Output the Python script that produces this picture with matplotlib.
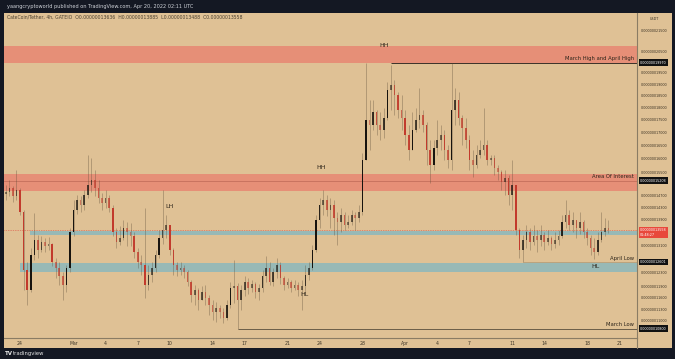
import numpy as np
import matplotlib.pyplot as plt
import matplotlib.dates as mdates
from matplotlib.colors import to_rgb
from matplotlib.lines import Line2D
from matplotlib.patches import Rectangle
from matplotlib.ticker import NullLocator
from matplotlib.transforms import blended_transform_factory
from datetime import datetime, timedelta

W, H = 675, 359

# CATE/USDT candles, prices in units of 1e-7 USDT, one bar per 8 hours
start = datetime(2022, 2, 22, 16)
bar_hours = 8
first_open = 1.475

close = [
    1.482, 1.496, 1.468, 1.489, 1.415, 1.238, 1.182, 1.281, 1.326, 1.296,
    1.320, 1.308, 1.314, 1.260, 1.244, 1.221, 1.196, 1.244, 1.351, 1.422,
    1.454, 1.438, 1.472, 1.506, 1.523, 1.496, 1.461, 1.445, 1.461, 1.428,
    1.351, 1.320, 1.332, 1.363, 1.351, 1.338, 1.290, 1.260, 1.252, 1.196,
    1.224, 1.244, 1.281, 1.332, 1.357, 1.373, 1.296, 1.252, 1.238, 1.244,
    1.232, 1.204, 1.168, 1.182, 1.155, 1.176, 1.160, 1.142, 1.123, 1.134,
    1.123, 1.107, 1.142, 1.187, 1.193, 1.155, 1.182, 1.204, 1.187, 1.198,
    1.176, 1.187, 1.221, 1.244, 1.204, 1.232, 1.252, 1.215, 1.196, 1.204,
    1.187, 1.196, 1.182, 1.193, 1.224, 1.244, 1.296, 1.389, 1.438, 1.454,
    1.422, 1.438, 1.396, 1.383, 1.405, 1.373, 1.383, 1.405, 1.396, 1.415,
    1.595, 1.749, 1.729, 1.782, 1.729, 1.709, 1.757, 1.875, 1.897, 1.853,
    1.790, 1.757, 1.690, 1.632, 1.709, 1.749, 1.770, 1.729, 1.632, 1.577,
    1.640, 1.670, 1.690, 1.632, 1.595, 1.790, 1.832, 1.757, 1.717, 1.670,
    1.595, 1.577, 1.612, 1.632, 1.651, 1.595, 1.602, 1.566, 1.552, 1.516,
    1.530, 1.472, 1.506, 1.357, 1.296, 1.326, 1.351, 1.320, 1.338, 1.326,
    1.341, 1.320, 1.332, 1.314, 1.326, 1.338, 1.383, 1.405, 1.373, 1.389,
    1.363, 1.383, 1.351, 1.332, 1.302, 1.290, 1.326, 1.351, 1.3636, 1.3558,
]
high = [
    1.506, 1.523, 1.502, 1.559, 1.496, 1.422, 1.260, 1.302, 1.412, 1.341,
    1.338, 1.332, 1.335, 1.317, 1.272, 1.260, 1.232, 1.252, 1.363, 1.454,
    1.472, 1.468, 1.489, 1.612, 1.602, 1.559, 1.523, 1.479, 1.489, 1.472,
    1.438, 1.363, 1.370, 1.389, 1.383, 1.379, 1.351, 1.302, 1.281, 1.428,
    1.252, 1.260, 1.296, 1.357, 1.489, 1.405, 1.373, 1.302, 1.260, 1.260,
    1.252, 1.238, 1.209, 1.196, 1.187, 1.193, 1.196, 1.168, 1.155, 1.150,
    1.142, 1.134, 1.155, 1.204, 1.266, 1.201, 1.196, 1.221, 1.215, 1.209,
    1.204, 1.198, 1.238, 1.278, 1.260, 1.244, 1.272, 1.260, 1.221, 1.215,
    1.209, 1.209, 1.204, 1.209, 1.252, 1.260, 1.311, 1.405, 1.461, 1.489,
    1.472, 1.461, 1.454, 1.415, 1.428, 1.415, 1.405, 1.422, 1.415, 1.438,
    1.620, 1.995, 1.832, 1.832, 1.790, 1.782, 1.798, 1.910, 1.986, 1.919,
    1.866, 1.853, 1.790, 1.729, 1.782, 1.798, 1.884, 1.790, 1.741, 1.670,
    1.670, 1.749, 1.729, 1.709, 1.651, 1.995, 1.884, 1.866, 1.770, 1.757,
    1.690, 1.632, 1.651, 1.670, 1.798, 1.670, 1.612, 1.612, 1.577, 1.559,
    1.559, 1.541, 1.595, 1.506, 1.363, 1.341, 1.373, 1.363, 1.373, 1.357,
    1.373, 1.351, 1.357, 1.338, 1.351, 1.357, 1.405, 1.454, 1.422, 1.415,
    1.389, 1.415, 1.389, 1.363, 1.341, 1.332, 1.351, 1.415, 1.396, 1.3885,
]
low = [
    1.454, 1.468, 1.448, 1.454, 1.405, 1.182, 1.142, 1.176, 1.266, 1.272,
    1.290, 1.290, 1.296, 1.249, 1.215, 1.196, 1.155, 1.176, 1.232, 1.338,
    1.408, 1.415, 1.422, 1.461, 1.482, 1.468, 1.445, 1.422, 1.428, 1.415,
    1.338, 1.302, 1.311, 1.326, 1.308, 1.308, 1.272, 1.244, 1.224, 1.160,
    1.182, 1.204, 1.232, 1.272, 1.314, 1.332, 1.281, 1.224, 1.221, 1.224,
    1.215, 1.193, 1.150, 1.142, 1.128, 1.155, 1.142, 1.115, 1.102, 1.097,
    1.107, 1.095, 1.102, 1.134, 1.147, 1.080, 1.128, 1.166, 1.171, 1.176,
    1.160, 1.155, 1.176, 1.204, 1.196, 1.193, 1.215, 1.198, 1.182, 1.187,
    1.176, 1.182, 1.166, 1.128, 1.176, 1.209, 1.238, 1.290, 1.363, 1.405,
    1.402, 1.363, 1.341, 1.311, 1.351, 1.357, 1.363, 1.373, 1.357, 1.383,
    1.405, 1.595, 1.632, 1.709, 1.690, 1.670, 1.678, 1.749, 1.790, 1.770,
    1.757, 1.709, 1.651, 1.595, 1.678, 1.701, 1.717, 1.701, 1.577, 1.513,
    1.559, 1.612, 1.632, 1.595, 1.566, 1.559, 1.729, 1.729, 1.651, 1.640,
    1.559, 1.534, 1.566, 1.602, 1.612, 1.577, 1.577, 1.541, 1.523, 1.489,
    1.472, 1.438, 1.422, 1.341, 1.272, 1.260, 1.302, 1.296, 1.311, 1.290,
    1.308, 1.296, 1.311, 1.296, 1.302, 1.311, 1.332, 1.363, 1.357, 1.351,
    1.332, 1.344, 1.332, 1.311, 1.281, 1.269, 1.281, 1.320, 1.338, 1.3488,
]

# drawings
zone_hh = (1.995, 2.075)
zone_aoi = (1.485, 1.544)
zone_mid = (1.341, 1.354)
zone_hl = (1.231, 1.257)
level_high = 1.9970
level_aoi = 1.5208
level_april_low = 1.2601
level_march_low = 1.0800
last_price = 1.3558

price_ticks = [2.15, 2.05, 1.95, 1.90, 1.85, 1.80, 1.75, 1.70, 1.65, 1.60, 1.55,
               1.47, 1.43, 1.39, 1.31, 1.23, 1.19, 1.16, 1.13, 1.10]
date_ticks = [datetime(2022, 2, 24), datetime(2022, 3, 1), datetime(2022, 3, 4),
              datetime(2022, 3, 7), datetime(2022, 3, 10), datetime(2022, 3, 14),
              datetime(2022, 3, 17), datetime(2022, 3, 21), datetime(2022, 3, 24),
              datetime(2022, 3, 28), datetime(2022, 4, 1), datetime(2022, 4, 4),
              datetime(2022, 4, 7), datetime(2022, 4, 11), datetime(2022, 4, 14),
              datetime(2022, 4, 18), datetime(2022, 4, 21)]
date_labels = ['24', 'Mar', '4', '7', '10', '14', '17', '21', '24', '28',
               'Apr', '4', '7', '11', '14', '18', '21']

swing_labels = ['HH', 'HH', 'LH', 'HL', 'HL']
swing_dates = [datetime(2022, 3, 30, 0), datetime(2022, 3, 24, 3), datetime(2022, 3, 10, 0),
               datetime(2022, 3, 22, 13), datetime(2022, 4, 18, 18)]
swing_prices = [2.080, 1.569, 1.431, 1.168, 1.246]

TAN = '#dfc195'
DARK = '#141823'
INK = '#2b2319'
AXIS_FS = 2.45


def fmt(v):
    return '%.11f' % (v * 1e-7)


fig = plt.figure(figsize=(W / 100, H / 100), dpi=100, facecolor=DARK)
fig.patches.append(Rectangle((4 / W, 1 - 348 / H), 668 / W, 335 / H,
                             transform=fig.transFigure, facecolor=TAN, lw=0, zorder=-10))
ax = fig.add_axes([4 / W, 1 - 338 / H, 633 / W, 325 / H])
ax.set_facecolor(TAN)
ax.set_yscale('log')
ax.set_ylim(1.057, 2.24)
ax.set_xlim(mdates.date2num(datetime(2022, 2, 22, 12)), mdates.date2num(datetime(2022, 4, 22, 16)))

# zones and levels
ax.axhspan(*zone_hh, facecolor='#e68f77', lw=0, zorder=1)
ax.axhspan(*zone_aoi, facecolor='#e68f77', lw=0, zorder=1)
ax.axhspan(*zone_mid, xmin=0.041, facecolor='#98b9b6', lw=0, zorder=1)
ax.axhspan(*zone_hl, xmin=0.025, facecolor='#98b9b6', lw=0, zorder=1)
ax.axhline(level_aoi, color='#c46f5c', lw=0.6, zorder=2)
ax.axhline(last_price, color='#e0473c', lw=0.5, ls=(0, (1, 1.5)), zorder=2)
xmax = ax.get_xlim()[1]
ax.hlines(level_high, mdates.date2num(datetime(2022, 3, 30, 16)), xmax, color='#3a3128', lw=0.7, zorder=2)
ax.hlines(level_april_low, mdates.date2num(datetime(2022, 4, 12)), xmax, color='#a08c6c', lw=0.4, zorder=2)
ax.hlines(level_march_low, mdates.date2num(datetime(2022, 3, 16, 8)), xmax, color='#6b5d48', lw=0.7, zorder=2)

# candles
c = np.array(close)
o = np.r_[first_open, c[:-1]]
x = mdates.date2num([start + timedelta(hours=bar_hours * i) for i in range(len(c))])
body_lo = np.minimum(o, c)
body_hi = np.maximum(o, c)
hi = np.maximum(np.array(high), body_hi)
lo = np.minimum(np.array(low), body_lo)
ax.vlines(x, lo, hi, color='#5a4a35', lw=0.4, alpha=0.6, zorder=3)
strength = np.clip(np.abs(np.log(c / o)) / 0.04, 0, 1)
colors = []
for up, s in zip(c >= o, strength):
    base = to_rgb('#17130e') if up else to_rgb('#c23a2c')
    colors.append((*base, 0.38 + 0.62 * s))
ax.bar(x, np.maximum(body_hi - body_lo, body_lo * 0.003), bottom=body_lo,
       width=bar_hours / 24 * 0.45, color=colors, lw=0, zorder=4)

# axes
for side in ['top', 'left']:
    ax.spines[side].set_visible(False)
for side in ['right', 'bottom']:
    ax.spines[side].set_color('#8a7c64')
    ax.spines[side].set_linewidth(0.8)
fig.add_artist(Line2D([637 / W, 637 / W], [1 - 348 / H, 1 - 338 / H], color='#8a7c64', lw=0.8))
ax.yaxis.tick_right()
ax.yaxis.set_minor_locator(NullLocator())
ax.set_yticks(price_ticks, [fmt(v) for v in price_ticks])
ax.tick_params(axis='y', length=0, pad=2.6, labelsize=AXIS_FS, labelcolor='#3d3426')
ax.set_xticks(mdates.date2num(date_ticks), date_labels)
ax.tick_params(axis='x', length=0, pad=2.2, labelsize=3.3, labelcolor='#3d3426')

trans = blended_transform_factory(ax.transAxes, ax.transData)
box_kw = dict(fontsize=AXIS_FS, color='white', va='center', ha='left', transform=trans, zorder=6)
for v in [level_high, level_aoi, level_april_low, level_march_low]:
    ax.text(1.005, v, fmt(v), bbox=dict(boxstyle='square,pad=0.35', fc='#111111', ec='none'), **box_kw)
ax.text(1.005, 1.3635, fmt(last_price) + '\n01:48:27', fontsize=AXIS_FS, color='white', va='top', ha='left',
        transform=trans, linespacing=1.25, zorder=6,
        bbox=dict(boxstyle='square,pad=0.35', fc='#e8483b', ec='none'))

# text on the chart
txt_kw = dict(fontsize=3.8, color=INK, ha='right', va='bottom', transform=trans, zorder=5)
ax.text(0.995, level_high * 1.003, 'March High and April High', **txt_kw)
ax.text(0.995, level_aoi * 1.004, 'Area Of Interest', **txt_kw)
ax.text(0.995, level_april_low * 1.003, 'April Low', **txt_kw)
ax.text(0.995, level_march_low * 1.004, 'March Low', **txt_kw)
for lab, d, p in zip(swing_labels, swing_dates, swing_prices):
    ax.text(mdates.date2num(d), p, lab, fontsize=4.5, color=INK, ha='center', va='center', zorder=5)

fig.text(7 / W, 1 - 6.5 / H, 'yaangcryptoworld published on TradingView.com, Apr 20, 2022 02:11 UTC',
         fontsize=3.6, color='#cfd2d8', va='center')
fig.text(7 / W, 1 - 17 / H, 'CateCoin/Tether, 4h, GATEIO  O0.00000013636  H0.00000013885  '
         'L0.00000013488  C0.00000013558', fontsize=3.3, color='#4a4030', va='center')
fig.text(654 / W, 1 - 19 / H, 'USDT', fontsize=AXIS_FS, color='#3d3426', va='center', ha='center')
fig.text(5 / W, 1 - 353.5 / H, 'TV', fontsize=4, color='#e8e8e8', va='center', weight='bold')
fig.text(13 / W, 1 - 353.5 / H, 'tradingview', fontsize=3.8, color='#e8e8e8', va='center')

fig.savefig('out.png', dpi=100, facecolor=DARK)
